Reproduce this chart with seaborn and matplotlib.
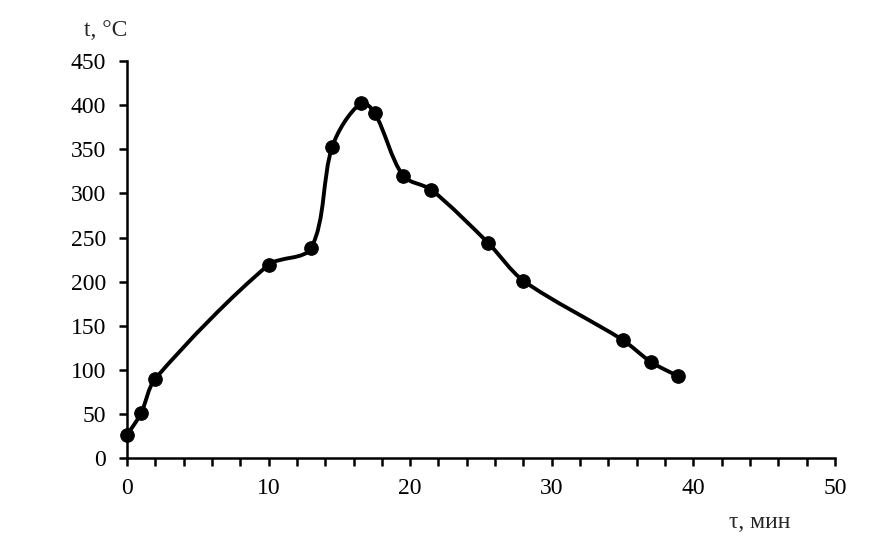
import numpy as np
import pandas as pd
import seaborn as sns
from matplotlib import pyplot
from matplotlib.path import Path
from matplotlib.patches import PathPatch
from matplotlib.ticker import MultipleLocator

# time, min
tau = [0, 1, 2, 10, 13, 14.5, 16.5, 17.5, 19.5, 21.5, 25.5, 28, 35, 37, 38.9]
# temperature, deg C
temp = [26, 51, 90, 219, 238, 353, 402, 391, 320, 304, 244, 201, 134, 109, 93]

sns.set_theme(style='ticks')
pyplot.rcParams['font.family'] = ['Liberation Serif', 'DejaVu Serif']

data_frame = pd.DataFrame({'tau': tau, 'temp': temp})

fig = pyplot.figure(figsize=(8.94, 5.52), dpi=100)
ax = fig.add_axes([0.142, 0.170, 0.792, 0.7195])
ax.set_xlim(0, 50)
ax.set_ylim(0, 450)

# smoothed line, tangents worked out in screen proportions
sx = 0.792 * 894 / 50
sy = 0.7195 * 552 / 450
pts = np.column_stack([np.array(tau) * sx, np.array(temp) * sy])
ext = np.vstack([pts[0], pts, pts[-1]])
tension = 0.3
verts = [tuple(pts[0])]
codes = [Path.MOVETO]
for i in range(len(pts) - 1):
    p0, p1, p2, p3 = ext[i], ext[i + 1], ext[i + 2], ext[i + 3]
    seg = np.linalg.norm(p2 - p1)
    t1 = (p2 - p0) / np.linalg.norm(p2 - p0)
    t2 = (p3 - p1) / np.linalg.norm(p3 - p1)
    c1 = p1 + t1 * seg * tension
    c2 = p2 - t2 * seg * tension
    verts += [tuple(c1), tuple(c2), tuple(p2)]
    codes += [Path.CURVE4] * 3
verts = [(vx / sx, vy / sy) for vx, vy in verts]
ax.add_patch(PathPatch(Path(verts, codes), facecolor='none', edgecolor='black', lw=2.8, zorder=2))

sns.scatterplot(data=data_frame, x='tau', y='temp', color='black', s=95, edgecolor='black', zorder=3, ax=ax, clip_on=False)

ax.xaxis.set_major_locator(MultipleLocator(10))
ax.xaxis.set_minor_locator(MultipleLocator(2))
ax.yaxis.set_major_locator(MultipleLocator(50))
ax.set_xlabel('')
ax.set_ylabel('')
sns.despine(ax=ax)
for side in ['left', 'bottom']:
    ax.spines[side].set_linewidth(1.8)
    ax.spines[side].set_color('black')
ax.tick_params(axis='both', which='both', direction='out', length=6, width=1.8, color='black', labelsize=17, labelcolor='black')
ax.tick_params(axis='y', pad=9)
ax.tick_params(axis='x', pad=8)

fig.text(106 / 894, 1 - 30 / 552, 't, °C', fontsize=17, ha='center', va='center')
fig.text(760 / 894, 1 - 522 / 552, 'τ, мин', fontsize=17, ha='center', va='center')

fig.savefig('out.png', dpi=100)
